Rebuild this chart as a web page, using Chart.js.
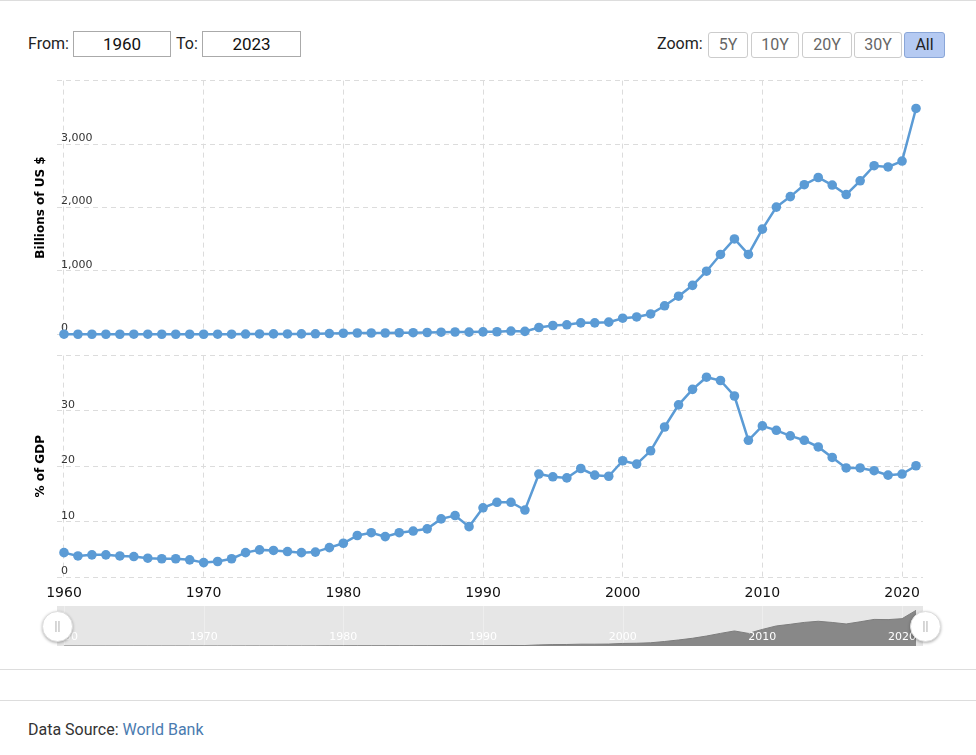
<!DOCTYPE html>
<html>
<head>
<meta charset="utf-8">
<script src="https://cdn.jsdelivr.net/npm/chart.js@4.4.1/dist/chart.umd.min.js"></script>
<style>
body { margin: 0; width: 976px; height: 755px; position: relative; background: #fff; font-family: Roboto, sans-serif; color: #222; overflow: hidden; }
.abs { position: absolute; }
.hr { left: 0; width: 976px; height: 1px; background: #ddd; }
.lbl { font-size: 16px; line-height: 26px; top: 31px; color: #222; }
.box { top: 31px; height: 24px; border: 1px solid #aaa; font-size: 17px; line-height: 24px; text-align: center; color: #111; }
.btn { top: 32px; height: 24px; border: 1px solid #ccc; border-radius: 3px; font-size: 16px; line-height: 24px; text-align: center; color: #666; box-sizing: content-box; }
.btn.on { background: #b5caf2; border-color: #8aa6d8; color: #222; }
canvas { position: absolute; left: 0; }
.handle { top: 611px; width: 29px; height: 29px; border-radius: 50%; background: #fff; border: 1px solid #ddd; box-shadow: 0 1px 3px rgba(0,0,0,.3); color: #aaa; font-size: 12px; line-height: 29px; text-align: center; }
.src { left: 28px; top: 720px; font-size: 16px; color: #333; }
.src span { color: #4a7bb0; }
</style>
</head>
<body>
<div class="abs hr" style="top:0"></div>

<div class="abs lbl" style="left:28px">From:</div>
<div class="abs box" style="left:73px;width:96px">1960</div>
<div class="abs lbl" style="left:176px">To:</div>
<div class="abs box" style="left:202px;width:97px">2023</div>

<div class="abs lbl" style="left:657px">Zoom:</div>
<div class="abs btn" style="left:708px;width:38px">5Y</div>
<div class="abs btn" style="left:751px;width:46px">10Y</div>
<div class="abs btn" style="left:802px;width:48px">20Y</div>
<div class="abs btn" style="left:854px;width:46px">30Y</div>
<div class="abs btn on" style="left:904px;width:39px">All</div>

<canvas id="topChart" width="976" height="275" style="top:70px"></canvas>
<canvas id="bottomChart" width="976" height="260" style="top:345px"></canvas>
<canvas id="navChart" width="976" height="50" style="top:600px"></canvas>

<div class="abs handle" style="left:42px">||</div>
<div class="abs handle" style="left:910px">||</div>

<div class="abs hr" style="top:669px"></div>
<div class="abs hr" style="top:700px"></div>
<div class="abs src">Data Source: <span>World Bank</span></div>

<script>
const years = [1960, 1961, 1962, 1963, 1964, 1965, 1966, 1967, 1968, 1969,
    1970, 1971, 1972, 1973, 1974, 1975, 1976, 1977, 1978, 1979,
    1980, 1981, 1982, 1983, 1984, 1985, 1986, 1987, 1988, 1989,
    1990, 1991, 1992, 1993, 1994, 1995, 1996, 1997, 1998, 1999,
    2000, 2001, 2002, 2003, 2004, 2005, 2006, 2007, 2008, 2009,
    2010, 2011, 2012, 2013, 2014, 2015, 2016, 2017, 2018, 2019,
    2020, 2021];

// exports, billions of US $
const exportsBn = [3, 2.4, 2.3, 2.4, 2.6, 2.9, 2.9, 2.6, 2.5, 2.5,
    2.4, 2.8, 3.5, 5.8, 7.2, 7.5, 7.0, 7.5, 9.8, 13.6,
    18, 22, 22, 22, 26, 27, 30, 35, 38, 36,
    40, 42, 53, 47, 109, 140, 151, 182, 182, 193,
    255, 275, 322, 451, 602, 773, 996, 1260, 1504, 1260,
    1659, 2006, 2172, 2359, 2473, 2354, 2204, 2421, 2659, 2639,
    2732, 3561];

// exports, % of GDP
const exportsPct = [4.4, 3.8, 4.0, 4.0, 3.8, 3.7, 3.4, 3.3, 3.3, 3.1,
    2.6, 2.8, 3.3, 4.4, 4.9, 4.8, 4.6, 4.4, 4.5, 5.3,
    6.1, 7.5, 8.0, 7.3, 8.0, 8.3, 8.7, 10.5, 11.1, 9.1,
    12.5, 13.5, 13.5, 12.1, 18.6, 18.1, 17.9, 19.6, 18.4, 18.2,
    21.0, 20.4, 22.8, 27.1, 31.1, 33.9, 36.1, 35.5, 32.7, 24.7,
    27.3, 26.5, 25.5, 24.7, 23.5, 21.6, 19.7, 19.7, 19.2, 18.4,
    18.6, 20.1];

const xTickYears = [1960, 1970, 1980, 1990, 2000, 2010, 2020];

Chart.defaults.font.family = "'DejaVu Sans', Verdana, sans-serif";
Chart.defaults.animation = false;

const lineColor = '#5b9bd5';
const gridColor = '#dcdcdc';

function xScale(showLabels, height) {
    return {
        type: 'linear', min: 1959.5, max: 2021.5,
        afterBuildTicks: s => { s.ticks = xTickYears.map(v => ({ value: v })); },
        afterFit: s => { s.height = height; },
        grid: { color: gridColor, drawTicks: false },
        border: { display: false, dash: [5, 4] },
        ticks: { display: showLabels, padding: 8, color: '#111', font: { size: 14 },
                 maxRotation: 0, autoSkip: false, callback: v => String(v) }
    };
}

function yScale(title, max, step) {
    return {
        min: 0, max: max,
        afterFit: s => { s.width = 57; },
        grid: { color: gridColor, drawTicks: false },
        border: { display: false, dash: [5, 4] },
        ticks: { stepSize: step, mirror: true, padding: 4, labelOffset: -6, color: '#333', font: { size: 11 },
                 callback: v => v === max ? '' : v.toLocaleString('en-US') },
        title: { display: true, text: title, color: '#000', font: { size: 12, weight: 'bold' },
                 padding: { top: 34, bottom: 0 } }
    };
}

function lineSet(values) {
    return {
        data: years.map((y, i) => ({ x: y, y: values[i] })),
        borderColor: lineColor, backgroundColor: lineColor,
        borderWidth: 2.5, pointRadius: 4.8, pointBorderWidth: 0,
        pointBackgroundColor: lineColor, clip: false, tension: 0
    };
}

const noPlugins = { legend: { display: false }, tooltip: { enabled: false } };

new Chart(document.getElementById('topChart'), {
    type: 'line',
    data: { datasets: [lineSet(exportsBn)] },
    options: {
        responsive: false, events: [],
        layout: { padding: { top: 8, right: 53, left: 0, bottom: 0 } },
        scales: { x: xScale(false, 9), y: yScale('Billions of US $', 4000, 1000) },
        plugins: noPlugins
    }
});

new Chart(document.getElementById('bottomChart'), {
    type: 'line',
    data: { datasets: [lineSet(exportsPct)] },
    options: {
        responsive: false, events: [],
        layout: { padding: { top: 10, right: 53, left: 0, bottom: 0 } },
        scales: { x: xScale(true, 28), y: yScale('% of GDP', 40, 10) },
        plugins: noPlugins
    }
});

// navigator strip
const navDecor = {
    id: 'navDecor',
    beforeDatasetsDraw(chart) {
        const { ctx, chartArea: a, scales: { x } } = chart;
        ctx.save();
        ctx.fillStyle = '#e6e6e6';
        ctx.fillRect(a.left, a.top, a.right - a.left, a.bottom - a.top);
        ctx.strokeStyle = '#eeeeee';
        ctx.lineWidth = 1;
        xTickYears.forEach(v => {
            const px = Math.round(x.getPixelForValue(v)) + 0.5;
            ctx.beginPath(); ctx.moveTo(px, a.top); ctx.lineTo(px, a.bottom); ctx.stroke();
        });
        ctx.restore();
    },
    afterDatasetsDraw(chart) {
        const { ctx, chartArea: a, scales: { x } } = chart;
        ctx.save();
        ctx.beginPath(); ctx.rect(a.left, a.top, a.right - a.left, a.bottom - a.top); ctx.clip();
        ctx.fillStyle = '#ffffff';
        ctx.font = "11px 'DejaVu Sans', sans-serif";
        ctx.textAlign = 'center';
        ctx.textBaseline = 'middle';
        xTickYears.forEach(v => ctx.fillText(String(v), x.getPixelForValue(v), a.bottom - 9));
        ctx.restore();
    }
};

new Chart(document.getElementById('navChart'), {
    type: 'line',
    data: { datasets: [{
        data: years.map((y, i) => ({ x: y, y: exportsBn[i] })),
        borderColor: '#7d7d7d', backgroundColor: '#888888', borderWidth: 1,
        pointRadius: 0, fill: 'origin', tension: 0
    }] },
    options: {
        responsive: false, events: [],
        layout: { padding: { top: 6, right: 53, left: 57, bottom: 4 } },
        scales: {
            x: { type: 'linear', min: 1959.5, max: 2021.5, display: false },
            y: { min: 0, max: 4000, display: false }
        },
        plugins: noPlugins
    },
    plugins: [navDecor]
});
</script>
</body>
</html>
